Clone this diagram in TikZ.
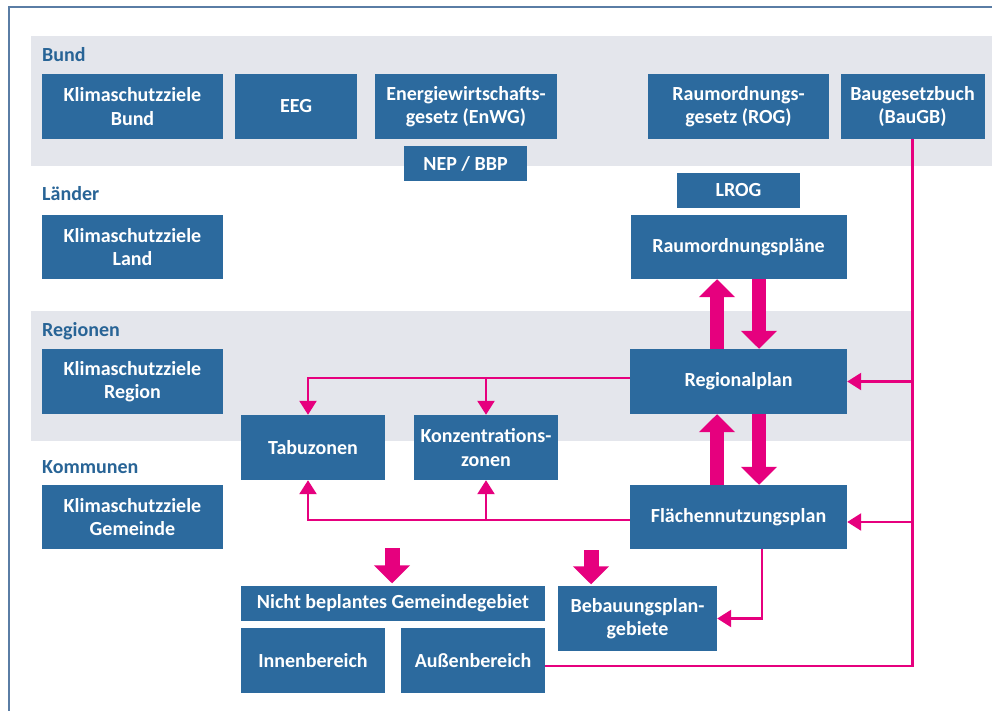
\documentclass[tikz,border=0pt]{standalone}
\usepackage{fontspec}
\setmainfont{Carlito}
\usetikzlibrary{arrows.meta,calc}
\definecolor{boxblue}{RGB}{44,106,158}
\definecolor{pinkc}{RGB}{230,0,126}
\definecolor{bandgrey}{RGB}{228,230,236}
\definecolor{labelblue}{RGB}{40,100,150}
\definecolor{framec}{RGB}{90,125,165}
\begin{document}
\begin{tikzpicture}[x=1pt,y=-1pt,
  box/.style={fill=boxblue, text=white, font=\bfseries\fontsize{20}{23.5}\selectfont, align=center, inner sep=0pt},
  lvl/.style={text=labelblue, font=\bfseries\fontsize{20}{23.5}\selectfont, anchor=base west, inner sep=0pt},
  pinkline/.style={draw=pinkc, line width=2.5pt},
  pinkarrow/.style={pinkline, -{Triangle[width=17pt,length=14pt]}},
  fatarrow/.style={draw=pinkc, line width=14pt, -{Triangle[width=35pt,length=18pt]}},
]
\useasboundingbox (0,0) rectangle (992,711);
\fill[white] (0,0) rectangle (992,711);
% bands
\fill[bandgrey] (31,36) rectangle (992,166);
\fill[bandgrey] (31,311) rectangle (914,441);
% frame
\draw[framec, line width=1.5pt] (9,711) -- (9,7) -- (992,7);
% level labels
\node[lvl] (lbund) at (42,62) {Bund};
\node[lvl] (llaender) at (42,201) {Länder};
\node[lvl] (lregion) at (42,336) {Regionen};
\node[lvl] (lkomm) at (42,473) {Kommunen};
% Bund
\node[box, minimum width=181pt, minimum height=65pt] (kb) at (132.5,106.5) {Klimaschutzziele\\Bund};
\node[box, minimum width=122pt, minimum height=65pt] (eeg) at (296,106.5) {EEG};
\node[box, minimum width=182pt, minimum height=65pt] (enwg) at (466,106.5) {Energiewirtschafts-\\gesetz (EnWG)};
\node[box, minimum width=123pt, minimum height=35pt] (nep) at (465.5,163.5) {NEP / BBP};
\node[box, minimum width=181pt, minimum height=65pt] (rog) at (738.5,106.5) {Raumordnungs-\\gesetz (ROG)};
\node[box, minimum width=144pt, minimum height=65pt] (baugb) at (912.5,106.5) {Baugesetzbuch\\(BauGB)};
% Laender
\node[box, minimum width=181pt, minimum height=64pt] (kl) at (132.5,247) {Klimaschutzziele\\Land};
\node[box, minimum width=123pt, minimum height=35pt] (lrog) at (738.5,190.5) {LROG};
\node[box, minimum width=216pt, minimum height=64pt] (rop) at (738.5,247) {Raumordnungspläne};
% Regionen
\node[box, minimum width=181pt, minimum height=65pt] (kr) at (132.5,381.5) {Klimaschutzziele\\Region};
\node[box, minimum width=217pt, minimum height=65pt] (reg) at (738.5,381.5) {Regionalplan};
\node[box, minimum width=144pt, minimum height=65pt] (tabu) at (313,447.5) {Tabuzonen};
\node[box, minimum width=144pt, minimum height=65pt] (konz) at (486,447.5) {Konzentrations-\\zonen};
% Kommunen
\node[box, minimum width=181pt, minimum height=64pt] (kg) at (132.5,517) {Klimaschutzziele\\Gemeinde};
\node[box, minimum width=217pt, minimum height=64pt] (fnp) at (738.5,517) {Flächennutzungsplan};
\node[box, minimum width=304pt, minimum height=35pt] (nicht) at (393,603.5) {Nicht beplantes Gemeindegebiet};
\node[box, minimum width=144pt, minimum height=65pt] (innen) at (313,660.5) {Innenbereich};
\node[box, minimum width=144pt, minimum height=65pt] (aussen) at (473,660.5) {Außenbereich};
\node[box, minimum width=159pt, minimum height=65pt] (bebau) at (637.5,618.5) {Bebauungsplan-\\gebiete};
% BauGB line
\coordinate (bcorner) at (baugb.south |- 0,666);
\draw[pinkline] (baugb.south) -- (bcorner) -- (bcorner -| aussen.east);
\draw[pinkarrow] (baugb.south |- reg.east) -- (reg.east);
\draw[pinkarrow] ($(baugb.south |- fnp.east)+(0,5)$) -- ($(fnp.east)+(0,5)$);
% Regionalplan -> zones
\coordinate (rl) at ($(reg.west)+(0,-3.5)$);
\draw[pinkarrow] (rl) -| ($(tabu.north)+(-5,0)$);
\draw[pinkarrow] (rl -| konz.north) -- (konz.north);
% FNP -> zones
\coordinate (fl) at ($(fnp.west)+(0,3)$);
\draw[pinkarrow] (fl) -| ($(tabu.south)+(-5,0)$);
\draw[pinkarrow] (fl -| konz.south) -- (konz.south);
% FNP -> Bebauungsplan
\draw[pinkarrow] ($(fnp.south)+(23.5,0)$) |- (bebau.east);
% fat arrows
\draw[fatarrow] ([xshift=-21.5pt]reg.north) -- ([xshift=-21.5pt]rop.south);
\draw[fatarrow] ([xshift=20.5pt]rop.south) -- ([xshift=20.5pt]reg.north);
\draw[fatarrow] ([xshift=-21.5pt]fnp.north) -- ([xshift=-21.5pt]reg.south);
\draw[fatarrow] ([xshift=20.5pt]reg.south) -- ([xshift=20.5pt]fnp.north);
\coordinate (n1) at (392,548);
\coordinate (b1) at (591,550);
\draw[fatarrow, line width=15pt, shorten >=2.5pt] (n1) -- (n1 |- nicht.north);
\draw[fatarrow, line width=15pt, shorten >=1.5pt] (b1) -- (b1 |- bebau.north);
\end{tikzpicture}
\end{document}
